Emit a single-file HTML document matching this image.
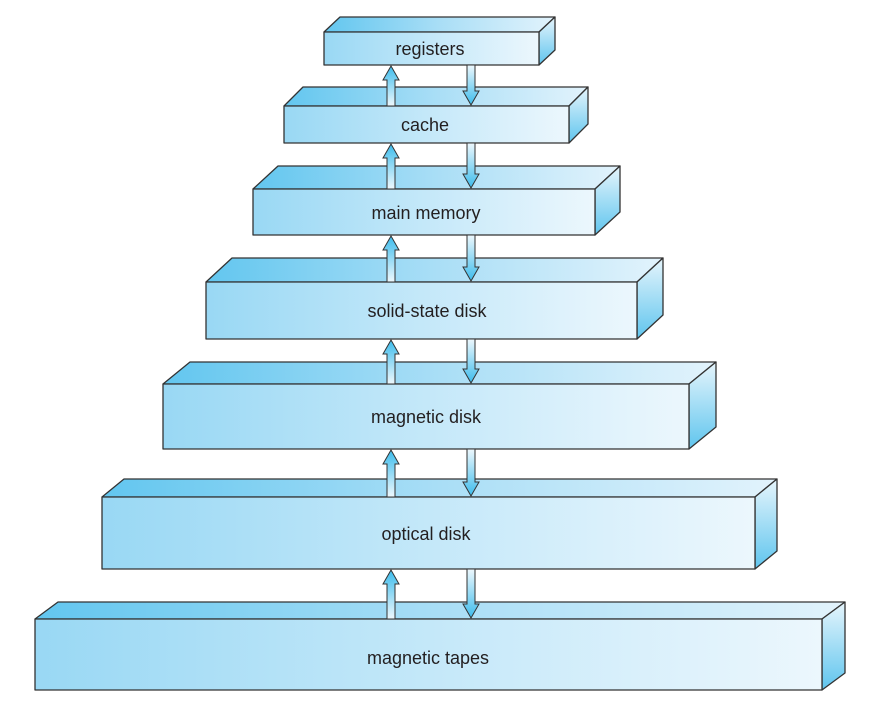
<!DOCTYPE html>
<html><head><meta charset="utf-8"><style>
html,body{margin:0;padding:0;background:#fff;}
svg{display:block;}
text{font-family:"Liberation Sans",sans-serif;font-size:18px;fill:#231f20;text-anchor:middle;}
</style></head><body>
<svg width="874" height="717" viewBox="0 0 874 717" xmlns="http://www.w3.org/2000/svg">
<defs>
<linearGradient id="fr" x1="0" x2="1" y1="0" y2="0"><stop offset="0" stop-color="#99d8f4"/><stop offset="0.5" stop-color="#c4e8f9"/><stop offset="1" stop-color="#ecf7fd"/></linearGradient>
<linearGradient id="tp" x1="0" x2="1" y1="0" y2="0"><stop offset="0" stop-color="#62c6ef"/><stop offset="0.5" stop-color="#a9def6"/><stop offset="1" stop-color="#e2f3fc"/></linearGradient>
<linearGradient id="sd" x1="0" x2="0" y1="0" y2="1"><stop offset="0" stop-color="#e6f5fc"/><stop offset="1" stop-color="#5fc5ee"/></linearGradient>
<linearGradient id="au" x1="0" x2="0" y1="0" y2="1"><stop offset="0" stop-color="#3dbcec"/><stop offset="1" stop-color="#eef8fd"/></linearGradient>
<linearGradient id="ad" x1="0" x2="0" y1="0" y2="1"><stop offset="0" stop-color="#eef8fd"/><stop offset="1" stop-color="#3dbcec"/></linearGradient>
</defs>
<g stroke="#333" stroke-width="1.3" stroke-linejoin="round">
<!-- registers 324,32,539,65 dx16 dy15 -->
<polygon fill="url(#tp)" points="324,32 340,17 555,17 539,32"/>
<polygon fill="url(#sd)" points="539,32 555,17 555,50 539,65"/>
<rect fill="url(#fr)" x="324" y="32" width="215" height="33"/>
<!-- cache 284,106,569,143 dx19 dy19 -->
<polygon fill="url(#tp)" points="284,106 303,87 588,87 569,106"/>
<polygon fill="url(#sd)" points="569,106 588,87 588,124 569,143"/>
<rect fill="url(#fr)" x="284" y="106" width="285" height="37"/>
<!-- main memory 253,189,595,235 dx25 dy23 -->
<polygon fill="url(#tp)" points="253,189 278,166 620,166 595,189"/>
<polygon fill="url(#sd)" points="595,189 620,166 620,212 595,235"/>
<rect fill="url(#fr)" x="253" y="189" width="342" height="46"/>
<!-- ssd 206,282,637,339 dx26 dy24 -->
<polygon fill="url(#tp)" points="206,282 232,258 663,258 637,282"/>
<polygon fill="url(#sd)" points="637,282 663,258 663,315 637,339"/>
<rect fill="url(#fr)" x="206" y="282" width="431" height="57"/>
<!-- magnetic disk 163,384,689,449 dx27 dy22 -->
<polygon fill="url(#tp)" points="163,384 190,362 716,362 689,384"/>
<polygon fill="url(#sd)" points="689,384 716,362 716,427 689,449"/>
<rect fill="url(#fr)" x="163" y="384" width="526" height="65"/>
<!-- optical 102,497,755,569 dx23 dy18 -->
<polygon fill="url(#tp)" points="102,497 124,479 777,479 755,497"/>
<polygon fill="url(#sd)" points="755,497 777,479 777,551 755,569"/>
<rect fill="url(#fr)" x="102" y="497" width="653" height="72"/>
<!-- tapes 35,619,822,690 dx23 dy17 -->
<polygon fill="url(#tp)" points="35,619 58,602 845,602 822,619"/>
<polygon fill="url(#sd)" points="822,619 845,602 845,673 822,690"/>
<rect fill="url(#fr)" x="35" y="619" width="787" height="71"/>
</g>
<g stroke="#333" stroke-width="1" stroke-linejoin="miter">
<path fill="url(#au)" d="M387,106 L387,80 L383,80 L391,66 L399,80 L395,80 L395,106 Z"/>
<path fill="url(#ad)" d="M467,65 L467,91 L463,91 L471,105 L479,91 L475,91 L475,65 Z"/>
<path fill="url(#au)" d="M387,189 L387,158 L383,158 L391,144 L399,158 L395,158 L395,189 Z"/>
<path fill="url(#ad)" d="M467,143 L467,174 L463,174 L471,188 L479,174 L475,174 L475,143 Z"/>
<path fill="url(#au)" d="M387,282 L387,250 L383,250 L391,236 L399,250 L395,250 L395,282 Z"/>
<path fill="url(#ad)" d="M467,235 L467,267 L463,267 L471,281 L479,267 L475,267 L475,235 Z"/>
<path fill="url(#au)" d="M387,384 L387,354 L383,354 L391,340 L399,354 L395,354 L395,384 Z"/>
<path fill="url(#ad)" d="M467,339 L467,369 L463,369 L471,383 L479,369 L475,369 L475,339 Z"/>
<path fill="url(#au)" d="M387,497 L387,464 L383,464 L391,450 L399,464 L395,464 L395,497 Z"/>
<path fill="url(#ad)" d="M467,449 L467,482 L463,482 L471,496 L479,482 L475,482 L475,449 Z"/>
<path fill="url(#au)" d="M387,619 L387,584 L383,584 L391,570 L399,584 L395,584 L395,619 Z"/>
<path fill="url(#ad)" d="M467,569 L467,604 L463,604 L471,618 L479,604 L475,604 L475,569 Z"/>
</g>
<text x="430" y="55">registers</text>
<text x="425" y="131">cache</text>
<text x="426" y="219">main memory</text>
<text x="427" y="317">solid-state disk</text>
<text x="426" y="423">magnetic disk</text>
<text x="426" y="540">optical disk</text>
<text x="428" y="664">magnetic tapes</text>
</svg>
</body></html>
